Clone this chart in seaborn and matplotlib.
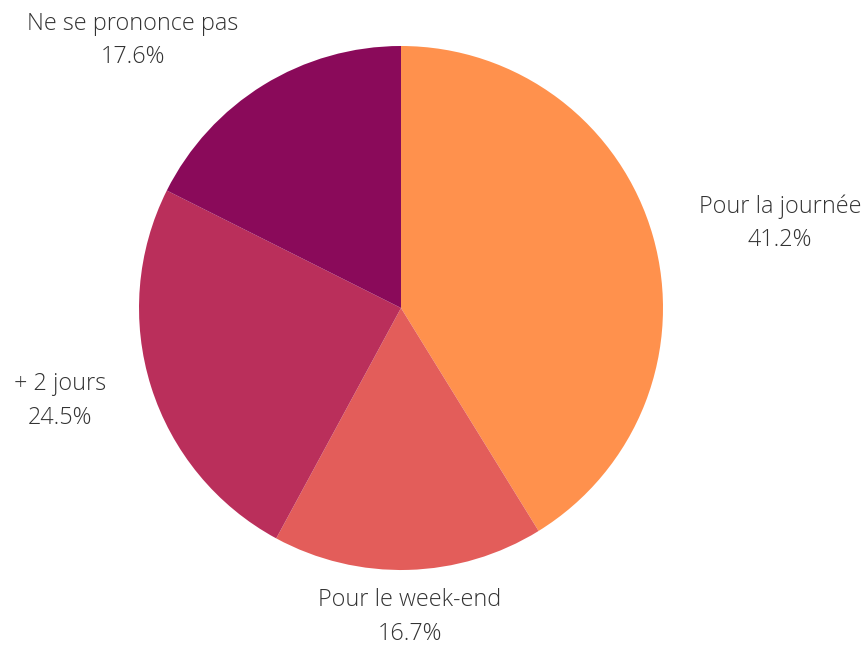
import numpy as np
import matplotlib.pyplot as plt
import seaborn as sns

# Données du graphique
categories = ["Pour la journée", "Pour le week-end", "+ 2 jours", "Ne se prononce pas"]
valeurs = [41.2, 16.7, 24.5, 17.6]
couleurs = ["#FF914D", "#E35D5A", "#BA2F5B", "#8A0A5A"]

sns.set_theme(style="white")
plt.rcParams['font.family'] = ['Open Sans', 'DejaVu Sans']

fig = plt.figure(figsize=(8.68, 6.45), dpi=100)
# axe carré : centre (401, 308) px, rayon 262 px
ax = fig.add_axes([139 / 868, (645 - 570) / 645, 524 / 868, 524 / 645])

wedges, _ = ax.pie(
    valeurs,
    colors=sns.color_palette(couleurs),
    startangle=90,
    counterclock=False,
    radius=1.0,
    wedgeprops=dict(linewidth=0),
)
ax.set_xlim(-1, 1)
ax.set_ylim(-1, 1)
ax.axis('off')

# Étiquettes à l'extérieur, ancrées du côté du camembert
total = sum(valeurs)
for w, cat, v in zip(wedges, categories, valeurs):
    theta = np.deg2rad((w.theta1 + w.theta2) / 2)
    c, s = np.cos(theta), np.sin(theta)
    ha = 'center' if abs(c) < 0.3 else ('left' if c > 0 else 'right')
    va = 'center' if abs(s) < 0.5 else ('bottom' if s > 0 else 'top')
    dx = 21 * c
    dy = 21 * s if va == 'center' else 0
    ax.annotate(f"{cat}\n{v / total * 100:.1f}%",
                xy=(1.07 * c, 1.07 * s), xytext=(dx, dy),
                textcoords='offset points',
                ha=ha, va=va, multialignment='center',
                fontsize=16.8, color='#333333', fontweight='light',
                linespacing=1.52, annotation_clip=False)

plt.savefig("out.png", dpi=100)
